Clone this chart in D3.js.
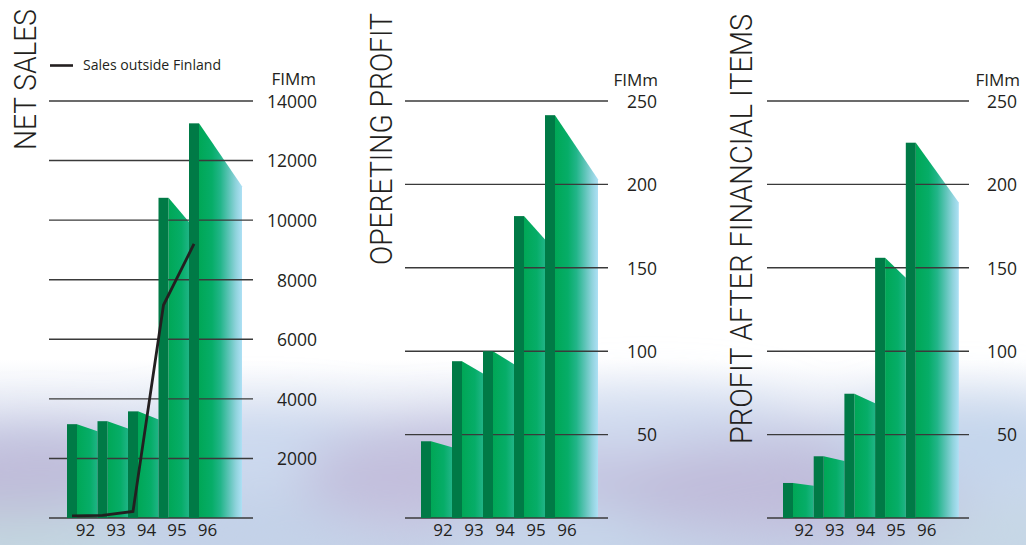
<!DOCTYPE html>
<html>
<head>
<meta charset="utf-8">
<script src="https://cdn.jsdelivr.net/npm/d3@7"></script>
<style>
  html, body { margin: 0; padding: 0; background: #fff; }
  svg { display: block; }
  text { font-family: "Open Sans", "DejaVu Sans", sans-serif; fill: #231f20; }
</style>
</head>
<body>
<svg id="chart" width="1026" height="545"></svg>
<script>
// ---- data ----
const years = ["92", "93", "94", "95", "96"];
const netSales = [3150, 3250, 3580, 10750, 13250];           // FIMm
const salesOutsideFinland = [70, 90, 220, 7150, 9200];      // FIMm
const operatingProfit = [46, 94, 100, 181, 241.5];          // FIMm
const profitAfterFinancialItems = [21, 37, 74.5, 156, 225]; // FIMm
const salesTicks = [2000, 4000, 6000, 8000, 10000, 12000, 14000];
const profitTicks = [50, 100, 150, 200, 250];
const unitLabel = "FIMm";
const legendLabel = "Sales outside Finland";

// ---- layout ----
const W = 1026, H = 545;
const baseY = 518, topY = 101;
const darkW = 10;          // width of the dark front strip of each bar
const lastShadeW = 43;     // width of the shaded side of the final bar
const vanishDist = 270;    // distance at which the shaded top reaches the baseline

const panels = [
  { title: "NET SALES", values: netSales, max: 14000, ticks: salesTicks,
    gridX: [49, 253], labelRight: 317, barStart: 67, step: 30.5, yearOffset: 18.5,
    titleX: 36, titleY: 150, titleLen: 141, unitY: 85, unitRight: 316 },
  { title: "OPERETING PROFIT", values: operatingProfit, max: 250, ticks: profitTicks,
    gridX: [405, 608], labelRight: 657, barStart: 421, step: 31, yearOffset: 22,
    titleX: 392, titleY: 265, titleLen: 252, unitY: 86, unitRight: 658 },
  { title: "PROFIT AFTER FINANCIAL ITEMS", values: profitAfterFinancialItems, max: 250, ticks: profitTicks,
    gridX: [767, 969], labelRight: 1017, barStart: 783, step: 30.7, yearOffset: 21,
    titleX: 752, titleY: 444, titleLen: 430, unitY: 86, unitRight: 1020 }
];

const svg = d3.select("#chart");
const defs = svg.append("defs");

// soft haze along the lower part of the page
const blur = defs.append("filter").attr("id", "haze")
  .attr("x", "-50%").attr("y", "-50%").attr("width", "200%").attr("height", "200%");
blur.append("feGaussianBlur").attr("stdDeviation", 26);

const bgGrad = defs.append("linearGradient").attr("id", "bgFade")
  .attr("x1", 0).attr("y1", 0).attr("x2", 0).attr("y2", 1);
bgGrad.append("stop").attr("offset", 0).attr("stop-color", "#ffffff");
bgGrad.append("stop").attr("offset", 0.66).attr("stop-color", "#ffffff");
bgGrad.append("stop").attr("offset", 0.81).attr("stop-color", "#d4dcee");
bgGrad.append("stop").attr("offset", 1).attr("stop-color", "#c6d4e9");

svg.append("rect").attr("width", W).attr("height", H).attr("fill", "url(#bgFade)");

const blobs = [
  [40, 482, 160, 50, "#bfbbd9"], [260, 448, 140, 30, "#cbd9ef"], [200, 527, 160, 35, "#c3d1e8"],
  [480, 478, 180, 55, "#c2bedc"], [650, 428, 150, 30, "#d0dcf0"], [600, 527, 160, 30, "#c6d6ea"],
  [790, 487, 190, 50, "#c0bcda"], [970, 448, 130, 45, "#c4d6ec"], [20, 540, 120, 25, "#c2d8de"],
  [1000, 537, 120, 25, "#c6d8e4"]
];
svg.append("g").attr("filter", "url(#haze)")
  .selectAll("ellipse").data(blobs).join("ellipse")
  .attr("cx", d => d[0]).attr("cy", d => d[1])
  .attr("rx", d => d[2]).attr("ry", d => d[3])
  .attr("fill", d => d[4]);

const shadeStops = [
  [0, "#00a756"], [0.3, "#06ad68"], [0.5, "#22b589"],
  [0.7, "#5ec4b8"], [0.86, "#8fd3dc"], [1, "#aee0f5"]
];

panels.forEach((p, pi) => {
  const g = svg.append("g");
  const y = d3.scaleLinear().domain([0, p.max]).range([baseY, topY]);
  const x = d3.scaleBand().domain(years)
    .range([p.barStart, p.barStart + p.step * years.length]).padding(0);

  const bars = years.map((yr, i) => {
    const x0 = x(yr);
    const xs = x0 + darkW;
    const xe = i < years.length - 1 ? x0 + x.bandwidth() : xs + lastShadeW;
    const yt = y(p.values[i]);
    const ye = yt + (baseY - yt) * (xe - xs) / vanishDist;
    return { yr, i, x0, xs, xe, yt, ye };
  });

  // per-bar gradient across the shaded side
  bars.forEach(b => {
    const lg = defs.append("linearGradient")
      .attr("id", `shade-${pi}-${b.i}`)
      .attr("gradientUnits", "userSpaceOnUse")
      .attr("x1", b.xs).attr("y1", 0).attr("x2", b.xs + lastShadeW).attr("y2", 0);
    shadeStops.forEach(s => lg.append("stop").attr("offset", s[0]).attr("stop-color", s[1]));
  });

  // shaded sides
  g.append("g").selectAll("path").data(bars).join("path")
    .attr("d", b => `M${b.xs},${b.yt}L${b.xe},${b.ye}L${b.xe},${baseY}L${b.xs},${baseY}Z`)
    .attr("fill", b => `url(#shade-${pi}-${b.i})`);

  // grid lines (baseline included)
  const gridVals = [0].concat(p.ticks);
  g.append("g").selectAll("line").data(gridVals).join("line")
    .attr("x1", p.gridX[0]).attr("x2", p.gridX[1])
    .attr("y1", d => y(d)).attr("y2", d => y(d))
    .attr("stroke", "#3a3a3a").attr("stroke-width", 1.4);

  // dark front strips
  g.append("g").selectAll("rect").data(bars).join("rect")
    .attr("x", b => b.x0).attr("y", b => b.yt)
    .attr("width", darkW).attr("height", b => baseY - b.yt)
    .attr("fill", "#007a46");

  // value axis on the right
  const axis = d3.axisRight(y).tickValues(p.ticks).tickSize(0).tickPadding(0)
    .tickFormat(d3.format("d"));
  const ag = g.append("g").attr("transform", `translate(${p.labelRight},0)`).call(axis);
  ag.select(".domain").remove();
  ag.selectAll("text")
    .attr("x", 0).attr("dy", "0.36em")
    .attr("text-anchor", "end")
    .style("font-family", "'Open Sans', sans-serif")
    .style("font-size", "17.5px")
    .attr("fill", "#231f20");

  g.append("text")
    .attr("x", p.unitRight).attr("y", p.unitY)
    .attr("text-anchor", "end")
    .style("font-size", "17px")
    .text(unitLabel);

  // year labels
  g.append("g").selectAll("text").data(bars).join("text")
    .attr("x", b => b.x0 + p.yearOffset).attr("y", 536)
    .attr("text-anchor", "middle")
    .style("font-size", "17px")
    .text(b => b.yr);

  // vertical panel title (slightly tall light capitals)
  g.append("text")
    .attr("transform", `translate(${p.titleX},${p.titleY}) rotate(-90) scale(1,1.07)`)
    .attr("text-anchor", "start")
    .attr("textLength", p.titleLen)
    .attr("lengthAdjust", "spacingAndGlyphs")
    .style("font-family", "Roboto, 'Open Sans', sans-serif")
    .style("font-size", "28.5px")
    .style("font-weight", 300)
    .text(p.title);

  // line series on the first panel
  if (pi === 0) {
    const line = d3.line()
      .x((d, i) => x(years[i]) + darkW / 2)
      .y(d => y(d));
    g.append("path").datum(salesOutsideFinland)
      .attr("d", line)
      .attr("fill", "none")
      .attr("stroke", "#231f20")
      .attr("stroke-width", 2.8)
      .attr("stroke-linejoin", "miter");

    g.append("line")
      .attr("x1", 50).attr("x2", 73).attr("y1", 65.5).attr("y2", 65.5)
      .attr("stroke", "#231f20").attr("stroke-width", 2.6);
    g.append("text")
      .attr("x", 83).attr("y", 70)
      .attr("textLength", 138)
      .attr("lengthAdjust", "spacingAndGlyphs")
      .style("font-size", "14.5px")
      .text(legendLabel);
  }
});
</script>
</body>
</html>
